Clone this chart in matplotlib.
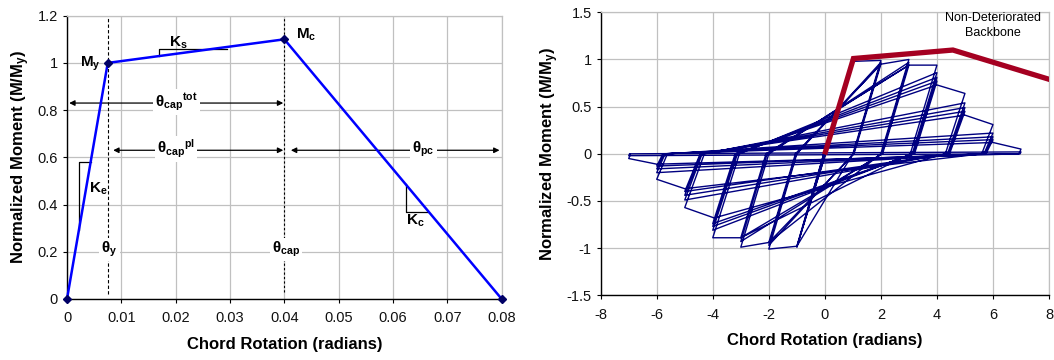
import numpy as np
import matplotlib
matplotlib.use("Agg")
import matplotlib.pyplot as plt

plt.rcParams['font.family'] = ['Liberation Sans', 'DejaVu Sans']
plt.rcParams['mathtext.fontset'] = 'custom'
plt.rcParams['mathtext.rm'] = 'Liberation Sans'
plt.rcParams['mathtext.it'] = 'Liberation Sans:italic'
plt.rcParams['mathtext.bf'] = 'Liberation Sans:bold'
plt.rcParams['axes.unicode_minus'] = False

# ---- left panel: backbone curve ----
bb_rot = [0.0, 0.0075, 0.040, 0.080]
bb_mom = [0.0, 1.0, 1.1, 0.0]

# ---- right panel: non-deteriorated backbone ----
nd_rot = [0.02, 1.02, 4.57, 8.0]
nd_mom = [0.02, 1.01, 1.10, 0.79]

# ---- right panel: hysteresis half cycles (via point, peak, zero crossing) ----
nan = np.nan
via_x = [nan, nan, nan, nan,
         1.0, -1.0, nan, nan, nan, nan,
         2.0, -2.0, nan, nan, nan, nan,
         3.0, -3.0, nan, nan, nan, nan, nan, nan,
         4.0, -3.95, nan, nan, nan, nan, nan, nan,
         5.0, -5.0, nan, nan, nan, nan, nan, nan,
         6.0, -6.0, nan, nan]
via_m = [nan, nan, nan, nan,
         0.98, -0.98, nan, nan, nan, nan,
         0.95, -0.94, nan, nan, nan, nan,
         0.94, -0.89, nan, nan, nan, nan, nan, nan,
         0.73, -0.68, nan, nan, nan, nan, nan, nan,
         0.41, -0.37, nan, nan, nan, nan, nan, nan,
         0.12, -0.11, nan, nan]
peak_x = [1.0, -1.0, 1.0, -1.0,
          2.0, -2.0, 2.0, -2.0, 2.0, -2.0,
          3.0, -3.0, 3.0, -3.0, 3.0, -3.0,
          4.0, -4.0, 4.0, -4.0, 4.0, -4.0, 4.0, -4.0,
          5.0, -5.0, 5.0, -5.0, 5.0, -5.0, 5.0, -5.0,
          6.0, -6.0, 6.0, -6.0, 6.0, -6.0, 6.0, -6.0,
          7.0, -7.0, 7.0, -7.0]
peak_m = [1.0, -0.99, 0.98, -0.98,
          0.99, -1.01, 0.97, -0.97, 0.95, -0.94,
          1.0, -0.99, 0.97, -0.93, 0.94, -0.89,
          0.94, -0.89, 0.86, -0.81, 0.81, -0.77, 0.77, -0.74,
          0.64, -0.57, 0.54, -0.49, 0.49, -0.44, 0.45, -0.40,
          0.31, -0.27, 0.22, -0.20, 0.18, -0.16, 0.15, -0.13,
          0.05, -0.05, 0.02, -0.02]
zero_x = [0.02, -0.03, 0.03, -0.04,
          1.0, -1.0, 1.02, -1.02, 1.04, -1.05,
          2.0, -2.0, 2.03, -2.06, 2.06, -2.10,
          3.05, -3.05, 3.12, -3.12, 3.17, -3.16, 3.20, -3.20,
          4.30, -4.30, 4.38, -4.38, 4.42, -4.42, 4.45, -4.45,
          5.60, -5.62, 5.68, -5.70, 5.72, -5.74, 5.75, -5.78,
          6.93, -6.93, 6.97, -6.97]

W, H = 1054, 360
fig = plt.figure(figsize=(W / 100, H / 100), dpi=100)

GRID = '#c0c0c0'
LBL = dict(fontsize=12, fontweight='bold')


def style(ax):
    ax.grid(True, color=GRID, lw=0.9)
    ax.set_axisbelow(True)
    for s in ('top', 'right'):
        ax.spines[s].set_color(GRID)
        ax.spines[s].set_linewidth(0.9)
    for s in ('left', 'bottom'):
        ax.spines[s].set_color('black')
        ax.spines[s].set_linewidth(1.0)
    ax.tick_params(labelsize=10.5, length=3, direction='out', color='black', labelcolor='#111')
    ax.tick_params(axis='x', pad=6)


# ================= left panel =================
ax = fig.add_axes([67 / W, 1 - 299 / H, 434.7 / W, 283.3 / H])
style(ax)
ax.set_xlim(0, 0.08)
ax.set_ylim(0, 1.2)
ax.set_xticks(np.arange(0, 0.081, 0.01))
ax.set_xticklabels(['0', '0.01', '0.02', '0.03', '0.04', '0.05', '0.06', '0.07', '0.08'])
ax.set_yticks(np.arange(0, 1.21, 0.2))
ax.set_yticklabels(['0', '0.2', '0.4', '0.6', '0.8', '1', '1.2'])

ax.plot([0.0075, 0.0075], [0.02, 1.2], color='black', ls=(0, (3, 2)), lw=0.8, zorder=2)
ax.plot([0.040, 0.040], [0.03, 1.2], color='black', ls=(0, (2, 2)), lw=0.8, zorder=2)

ax.plot(bb_rot, bb_mom, color='#0000ff', lw=1.8, zorder=4, clip_on=False)
ax.plot(bb_rot, bb_mom, ls='none', marker='D', ms=4, color='#000066', zorder=5, clip_on=False)

# slope triangles
ax.plot([0.0022, 0.0022, 0.0044], [0.293, 0.58, 0.58], color='black', lw=0.9, zorder=3)
ax.plot([0.017, 0.017, 0.0294], [1.029, 1.06, 1.06], color='black', lw=0.9, zorder=3)
ax.plot([0.0623, 0.0623, 0.0665], [0.487, 0.37, 0.37], color='black', lw=0.9, zorder=3)

arw = dict(arrowstyle='<|-|>', color='black', lw=0.9, mutation_scale=8, shrinkA=0, shrinkB=0)
ax.annotate('', xy=(0.0004, 0.83), xytext=(0.0398, 0.83), arrowprops=arw, zorder=3)
ax.annotate('', xy=(0.0085, 0.63), xytext=(0.0398, 0.63), arrowprops=arw, zorder=3)
ax.annotate('', xy=(0.0412, 0.63), xytext=(0.0796, 0.63), arrowprops=arw, zorder=3)

wb = dict(facecolor='white', edgecolor='none', pad=1.5)
tk = dict(fontsize=11, fontweight='bold', ha='center', va='center', zorder=6)
ax.text(0.0201, 0.835, r'$\mathbf{θ}_{\mathbf{cap}}{}^{\mathbf{tot}}$', bbox=wb, **tk)
ax.text(0.0201, 0.635, r'$\mathbf{θ}_{\mathbf{cap}}{}^{\mathbf{pl}}$', bbox=wb, **tk)
ax.text(0.0656, 0.635, r'$\mathbf{θ}_{\mathbf{pc}}$', bbox=wb, **tk)
ax.text(0.0078, 0.21, r'$\mathbf{θ}_{\mathbf{y}}$', bbox=wb, **tk)
ax.text(0.0403, 0.21, r'$\mathbf{θ}_{\mathbf{cap}}$', bbox=wb, **tk)
ax.text(0.0043, 0.995, r'$\mathbf{M}_{\mathbf{y}}$', **tk)
ax.text(0.0441, 1.12, r'$\mathbf{M}_{\mathbf{c}}$', **tk)
ax.text(0.0205, 1.085, r'$\mathbf{K}_{\mathbf{s}}$', **tk)
ax.text(0.0058, 0.465, r'$\mathbf{K}_{\mathbf{e}}$', **tk)
ax.text(0.0642, 0.33, r'$\mathbf{K}_{\mathbf{c}}$', **tk)

ax.set_xlabel('Chord Rotation (radians)', labelpad=8, **LBL)
ax.set_ylabel(r'Normalized Moment (M/M$_\mathbf{y}$)', labelpad=4, **LBL)

# ================= right panel =================
bx = fig.add_axes([600.7 / W, 1 - 295.3 / H, 448.3 / W, 283 / H])
style(bx)
bx.set_xlim(-8, 8)
bx.set_ylim(-1.5, 1.5)
bx.set_xticks(np.arange(-8, 9, 2))
bx.set_yticks(np.arange(-1.5, 1.51, 0.5))
bx.set_yticklabels(['-1.5', '-1', '-0.5', '0', '0.5', '1', '1.5'])

px, pm = [0.0], [0.0]
for vx, vm, kx, km, zx in zip(via_x, via_m, peak_x, peak_m, zero_x):
    if not np.isnan(vx):
        px.append(vx)
        pm.append(vm)
    px.append(kx)
    pm.append(km)
    px.append(zx)
    pm.append(0.0)
bx.plot(px, pm, color='#000080', lw=1.0, zorder=3)
bx.plot(nd_rot, nd_mom, color='#a50021', lw=3.8, zorder=4, solid_joinstyle='miter', clip_on=True)

bx.text(6.0, 1.36, 'Non-Deteriorated\nBackbone', ha='center', va='center',
        fontsize=9, linespacing=1.25, zorder=5)

bx.set_xlabel('Chord Rotation (radians)', labelpad=8, **LBL)
bx.set_ylabel(r'Normalized Moment (M/M$_\mathbf{y}$)', labelpad=4, **LBL)

fig.savefig('out.png', dpi=100)
